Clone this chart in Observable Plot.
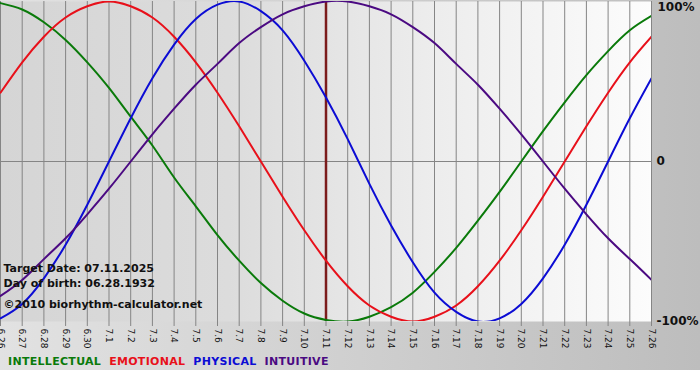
<!DOCTYPE html>
<html><head><meta charset="utf-8">
<script src="https://cdn.jsdelivr.net/npm/d3@7"></script>
<script src="https://cdn.jsdelivr.net/npm/@observablehq/plot@0.6"></script>
<style>
body{margin:0;background:#fff;}
#wrap{position:relative;width:700px;height:370px;background:linear-gradient(to right,#e2e2e2,#bdbdbd);overflow:hidden}
#chart svg{display:block}
#legend{position:absolute;left:8px;top:355px;font:bold 11px "DejaVu Sans";white-space:nowrap;line-height:13px;letter-spacing:0.3px}
#legend span{margin-right:8px}
</style></head><body>
<div id="wrap"><div id="chart"></div><div id="legend"></div></div>
<script>
const dates = ["6.26","6.27","6.28","6.29","6.30","7.1","7.2","7.3","7.4","7.5","7.6","7.7","7.8","7.9","7.10","7.11","7.12","7.13","7.14","7.15","7.16","7.17","7.18","7.19","7.20","7.21","7.22","7.23","7.24","7.25","7.26"];
const targetDate = "7.11";
const intellectual = [0.99,0.95,0.87,0.76,0.62,0.46,0.28,0.10,-0.10,-0.28,-0.46,-0.62,-0.76,-0.87,-0.95,-0.99,-1.00,-0.97,-0.91,-0.82,-0.69,-0.54,-0.37,-0.19,0.00,0.19,0.37,0.54,0.69,0.82,0.91];
const emotional = [0.43,0.62,0.78,0.90,0.97,1.00,0.97,0.90,0.78,0.62,0.43,0.22,0.00,-0.22,-0.43,-0.62,-0.78,-0.90,-0.97,-1.00,-0.97,-0.90,-0.78,-0.62,-0.43,-0.22,0.00,0.22,0.43,0.62,0.78];
const physical = [-0.98,-0.89,-0.73,-0.52,-0.27,0.00,0.27,0.52,0.73,0.89,0.98,1.00,0.94,0.82,0.63,0.40,0.14,-0.14,-0.40,-0.63,-0.82,-0.94,-1.00,-0.98,-0.89,-0.73,-0.52,-0.27,0.00,0.27,0.52];
const intuitive = [-0.84,-0.74,-0.61,-0.48,-0.33,-0.17,0.00,0.17,0.33,0.48,0.61,0.74,0.84,0.92,0.97,1.00,1.00,0.97,0.92,0.84,0.74,0.61,0.48,0.33,0.17,0.00,-0.17,-0.33,-0.48,-0.61,-0.74];
const seriesNames = ["INTELLECTUAL","EMOTIONAL","PHYSICAL","INTUITIVE"];
const seriesColors = ["#0a7a0a","#e8101a","#0c0cd4","#4b0a82"];
const yTickValues = [1,0,-1];
const yTickLabels = ["100%","0","-100%"];
const infoLines = ["Target Date: 07.11.2025","Day of birth: 06.28.1932","©2010 biorhythm-calculator.net"];

const seriesValues = [intellectual, emotional, physical, intuitive];
const rows = seriesNames.flatMap((name, s) => seriesValues[s].map((v, i) => ({i, v, name})));
const colorOf = Object.fromEntries(seriesNames.map((n, k) => [n, seriesColors[k]]));
const idx = d3.range(dates.length);
const yLab = yTickValues.map((v, k) => ({v, l: yTickLabels[k]}));

const chart = Plot.plot({
  width: 700, height: 356,
  marginLeft: 0, marginRight: 49, marginTop: 1, marginBottom: 35,
  style: {background: "transparent", fontFamily: "DejaVu Sans", overflow: "visible"},
  x: {domain: [0, dates.length - 1], axis: null},
  y: {domain: [-1, 1], axis: null},
  marks: [
    Plot.frame({fill: "url(#plotbg)", stroke: "none"}),
    Plot.ruleX(idx, {stroke: "#858585", strokeWidth: 1, strokeOpacity: 1}),
    Plot.ruleY([0], {stroke: "#858585", strokeWidth: 1}),
    Plot.axisX(idx, {anchor: "bottom", tickFormat: i => dates[i], tickRotate: 90, tickSize: 5, tickPadding: 2, stroke: "#858585", fill: "#111", fontSize: 9, label: null}),
    Plot.ruleX([dates.indexOf(targetDate)], {stroke: "#7b1c1c", strokeWidth: 2.5}),
    Plot.line(rows, {x: "i", y: "v", z: "name", stroke: d => colorOf[d.name], curve: "natural", strokeWidth: 2, clip: true}),
    Plot.text(yLab.slice(0, 1), {y: "v", text: "l", frameAnchor: "right", textAnchor: "start", dx: 6, lineAnchor: "top", dy: 1, fontWeight: "bold", fontSize: 12, fill: "#111"}),
    Plot.text(yLab.slice(1), {y: "v", text: "l", frameAnchor: "right", textAnchor: "start", dx: 5, fontWeight: "bold", fontSize: 12, fill: "#111"}),
    Plot.text([infoLines[0]], {text: d => d, frameAnchor: "bottom-left", dx: 3, dy: -50, fontWeight: "bold", fontSize: 11, fill: "#111"}),
    Plot.text([infoLines[1]], {text: d => d, frameAnchor: "bottom-left", dx: 3, dy: -35, fontWeight: "bold", fontSize: 11, fill: "#111"}),
    Plot.text([infoLines[2]], {text: d => d, frameAnchor: "bottom-left", dx: 3, dy: -14, fontWeight: "bold", fontSize: 11, fill: "#111"})
  ]
});
d3.select(chart).insert("defs", ":first-child").html(
  '<linearGradient id="plotbg" x1="0" x2="1" y1="0" y2="0">' +
  '<stop offset="0" stop-color="#d5d5d5"/><stop offset="0.35" stop-color="#dcdcdc"/>' +
  '<stop offset="0.65" stop-color="#ececec"/><stop offset="1" stop-color="#fcfcfc"/></linearGradient>');
document.getElementById("chart").appendChild(chart);

const leg = d3.select("#legend");
seriesNames.forEach((n, k) => leg.append("span").style("color", seriesColors[k]).text(n));
</script>
</body></html>
